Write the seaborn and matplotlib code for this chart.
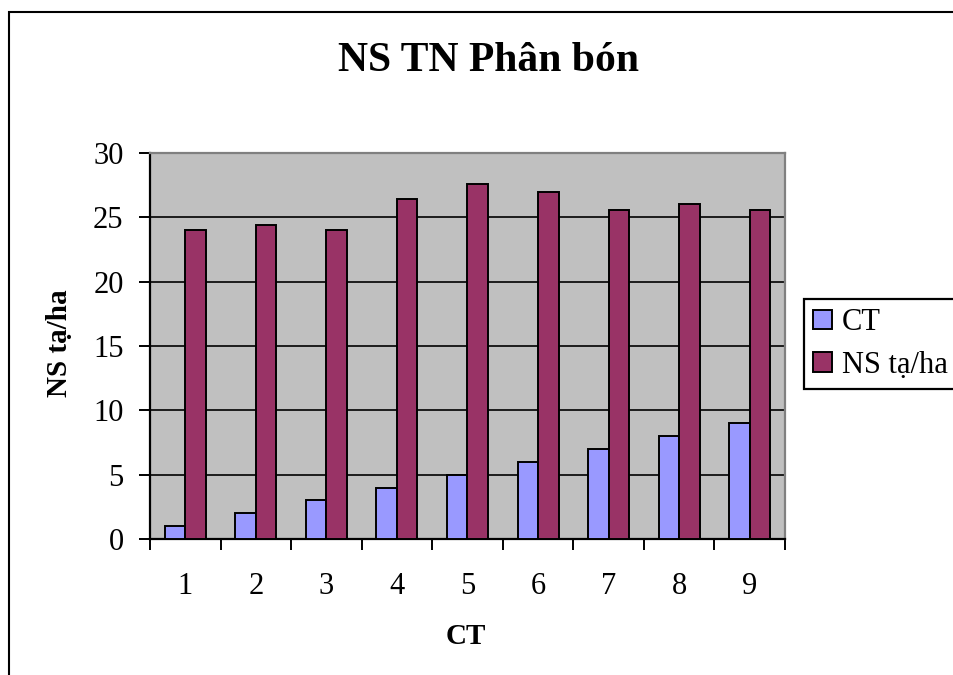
import matplotlib
matplotlib.use("Agg")
import matplotlib.pyplot as plt
import matplotlib.patches as mpatches
import seaborn as sns
import pandas as pd

# ---- data ----
categories = ["1", "2", "3", "4", "5", "6", "7", "8", "9"]
ct_values = [1, 2, 3, 4, 5, 6, 7, 8, 9]
ns_values = [24.0, 24.4, 24.0, 26.4, 27.6, 27.0, 25.6, 26.0, 25.6]
series_names = ["CT", "NS tạ/ha"]
y_ticks = [0, 5, 10, 15, 20, 25, 30]
title_text = "NS TN Phân bón"
x_label = "CT"
y_label = "NS tạ/ha"

df = pd.DataFrame({
    "cat": categories * 2,
    "series": [series_names[0]] * len(categories) + [series_names[1]] * len(categories),
    "value": ct_values + ns_values,
})

sns.set_theme(style="white")
plt.rcParams["font.family"] = ["Liberation Serif", "DejaVu Serif"]

W, H = 954, 675
fig = plt.figure(figsize=(W / 100, H / 100), dpi=100)
fig.patch.set_facecolor("white")

# plot area in pixels
L, R, T, B = 150, 785, 153, 539
ax = fig.add_axes([L / W, 1 - B / H, (R - L) / W, (B - T) / H])
ax.set_facecolor("#C0C0C0")

sns.barplot(data=df, x="cat", y="value", hue="series", order=categories,
            hue_order=series_names, palette=["#9999FF", "#993366"],
            width=0.58, edgecolor="black", linewidth=1.4, saturation=1,
            ax=ax, zorder=3)

ax.set_ylim(0, 30)
ax.set_xlim(-0.5, len(categories) - 0.5)
ax.set_yticks(y_ticks)
ax.yaxis.grid(True, color="black", linewidth=1.2)
ax.set_axisbelow(True)

for side in ["left", "bottom"]:
    ax.spines[side].set_color("black")
    ax.spines[side].set_linewidth(1.6)
for side in ["top", "right"]:
    ax.spines[side].set_color("#808080")
    ax.spines[side].set_linewidth(1.6)

ax.tick_params(axis="y", which="major", direction="out", length=8, width=1.4,
               color="black", pad=11, labelsize=22, left=True)
ax.set_xticks(range(len(categories)))
ax.set_xticklabels(categories)
ax.set_xticks([i - 0.5 for i in range(len(categories) + 1)], minor=True)
ax.tick_params(axis="x", which="major", length=0, pad=24, labelsize=22)
ax.tick_params(axis="x", which="minor", direction="out", length=8, width=1.4,
               color="black", bottom=True)
for lbl in ax.get_xticklabels() + ax.get_yticklabels():
    lbl.set_color("black")

ax.set_xlabel(x_label, fontsize=21, fontweight="bold", color="black", va="center")
ax.xaxis.set_label_coords((466 - L) / (R - L), (B - 636) / (B - T))
ax.set_ylabel(y_label, fontsize=21, fontweight="bold", color="black", va="center")
ax.yaxis.set_label_coords((60 - L) / (R - L), (B - 343) / (B - T))

fig.text(488 / W, 1 - 61 / H, title_text, fontsize=30, fontweight="bold",
         ha="center", va="center", color="black")

handles, labels = ax.get_legend_handles_labels()
ax.legend(handles, labels, loc="upper left",
          bbox_to_anchor=(804 / W, 1 - 299 / H), bbox_transform=fig.transFigure,
          borderaxespad=0, fontsize=22, frameon=True, fancybox=False,
          edgecolor="black", framealpha=1, handlelength=0.62, handleheight=0.62,
          handletextpad=0.33, labelspacing=0.45, borderpad=0.3)
leg = ax.get_legend()
leg.get_frame().set_linewidth(1.6)
for t in leg.get_texts():
    t.set_color("black")

# outer chart border (extends past the right/bottom edge as in the reference)
fig.patches.append(mpatches.Rectangle((9 / W, -0.1), 1.2, (1 - 12 / H) + 0.1,
                                      transform=fig.transFigure, fill=False,
                                      edgecolor="black", linewidth=1.5))

fig.savefig("out.png", dpi=100)
